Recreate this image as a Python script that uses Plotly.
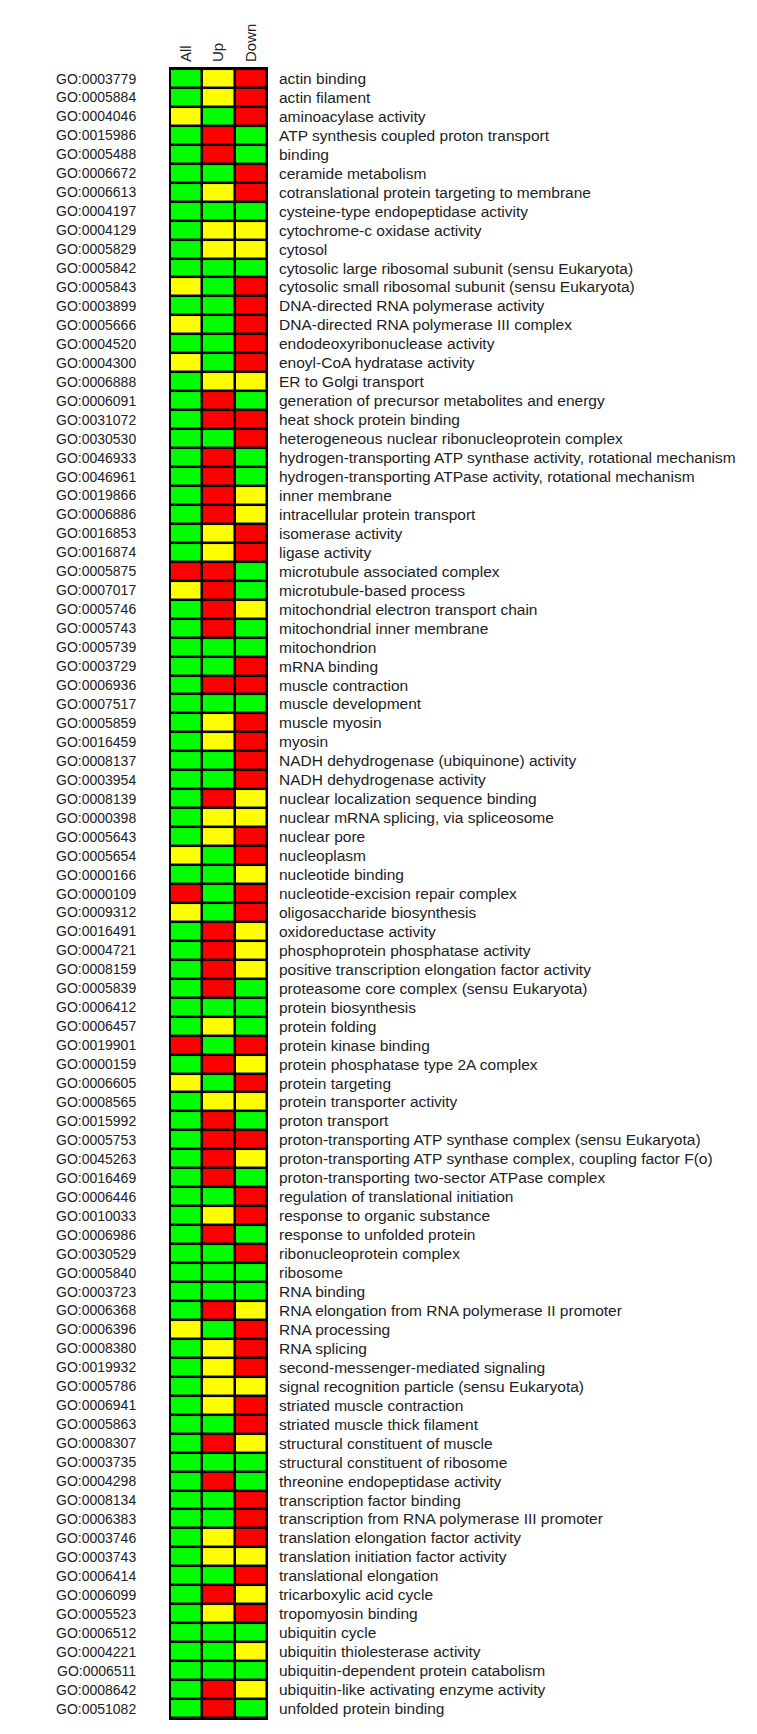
import plotly.graph_objects as go

go_ids = [
    "GO:0003779", "GO:0005884", "GO:0004046", "GO:0015986", "GO:0005488", "GO:0006672", "GO:0006613", "GO:0004197",
    "GO:0004129", "GO:0005829", "GO:0005842", "GO:0005843", "GO:0003899", "GO:0005666", "GO:0004520", "GO:0004300",
    "GO:0006888", "GO:0006091", "GO:0031072", "GO:0030530", "GO:0046933", "GO:0046961", "GO:0019866", "GO:0006886",
    "GO:0016853", "GO:0016874", "GO:0005875", "GO:0007017", "GO:0005746", "GO:0005743", "GO:0005739", "GO:0003729",
    "GO:0006936", "GO:0007517", "GO:0005859", "GO:0016459", "GO:0008137", "GO:0003954", "GO:0008139", "GO:0000398",
    "GO:0005643", "GO:0005654", "GO:0000166", "GO:0000109", "GO:0009312", "GO:0016491", "GO:0004721", "GO:0008159",
    "GO:0005839", "GO:0006412", "GO:0006457", "GO:0019901", "GO:0000159", "GO:0006605", "GO:0008565", "GO:0015992",
    "GO:0005753", "GO:0045263", "GO:0016469", "GO:0006446", "GO:0010033", "GO:0006986", "GO:0030529", "GO:0005840",
    "GO:0003723", "GO:0006368", "GO:0006396", "GO:0008380", "GO:0019932", "GO:0005786", "GO:0006941", "GO:0005863",
    "GO:0008307", "GO:0003735", "GO:0004298", "GO:0008134", "GO:0006383", "GO:0003746", "GO:0003743", "GO:0006414",
    "GO:0006099", "GO:0005523", "GO:0006512", "GO:0004221", "GO:0006511", "GO:0008642", "GO:0051082",
]

terms = [
    "actin binding", "actin filament", "aminoacylase activity", "ATP synthesis coupled proton transport", "binding",
    "ceramide metabolism", "cotranslational protein targeting to membrane", "cysteine-type endopeptidase activity",
    "cytochrome-c oxidase activity", "cytosol", "cytosolic large ribosomal subunit (sensu Eukaryota)",
    "cytosolic small ribosomal subunit (sensu Eukaryota)", "DNA-directed RNA polymerase activity",
    "DNA-directed RNA polymerase III complex", "endodeoxyribonuclease activity", "enoyl-CoA hydratase activity",
    "ER to Golgi transport", "generation of precursor metabolites and energy", "heat shock protein binding",
    "heterogeneous nuclear ribonucleoprotein complex",
    "hydrogen-transporting ATP synthase activity, rotational mechanism",
    "hydrogen-transporting ATPase activity, rotational mechanism", "inner membrane", "intracellular protein transport",
    "isomerase activity", "ligase activity", "microtubule associated complex", "microtubule-based process",
    "mitochondrial electron transport chain", "mitochondrial inner membrane", "mitochondrion", "mRNA binding",
    "muscle contraction", "muscle development", "muscle myosin", "myosin", "NADH dehydrogenase (ubiquinone) activity",
    "NADH dehydrogenase activity", "nuclear localization sequence binding", "nuclear mRNA splicing, via spliceosome",
    "nuclear pore", "nucleoplasm", "nucleotide binding", "nucleotide-excision repair complex",
    "oligosaccharide biosynthesis", "oxidoreductase activity", "phosphoprotein phosphatase activity",
    "positive transcription elongation factor activity", "proteasome core complex (sensu Eukaryota)",
    "protein biosynthesis", "protein folding", "protein kinase binding", "protein phosphatase type 2A complex",
    "protein targeting", "protein transporter activity", "proton transport",
    "proton-transporting ATP synthase complex (sensu Eukaryota)",
    "proton-transporting ATP synthase complex, coupling factor F(o)",
    "proton-transporting two-sector ATPase complex", "regulation of translational initiation",
    "response to organic substance", "response to unfolded protein", "ribonucleoprotein complex", "ribosome",
    "RNA binding", "RNA elongation from RNA polymerase II promoter", "RNA processing", "RNA splicing",
    "second-messenger-mediated signaling", "signal recognition particle (sensu Eukaryota)",
    "striated muscle contraction", "striated muscle thick filament", "structural constituent of muscle",
    "structural constituent of ribosome", "threonine endopeptidase activity", "transcription factor binding",
    "transcription from RNA polymerase III promoter", "translation elongation factor activity",
    "translation initiation factor activity", "translational elongation", "tricarboxylic acid cycle",
    "tropomyosin binding", "ubiquitin cycle", "ubiquitin thiolesterase activity",
    "ubiquitin-dependent protein catabolism", "ubiquitin-like activating enzyme activity", "unfolded protein binding",
]

columns = ["All", "Up", "Down"]

# G = green, Y = yellow, R = red
all_status = [
    "G", "G", "Y", "G", "G", "G", "G", "G", "G", "G",
    "G", "Y", "G", "Y", "G", "Y", "G", "G", "G", "G",
    "G", "G", "G", "G", "G", "G", "R", "Y", "G", "G",
    "G", "G", "G", "G", "G", "G", "G", "G", "G", "G",
    "G", "Y", "G", "R", "Y", "G", "G", "G", "G", "G",
    "G", "R", "G", "Y", "G", "G", "G", "G", "G", "G",
    "G", "G", "G", "G", "G", "G", "Y", "G", "G", "G",
    "G", "G", "G", "G", "G", "G", "G", "G", "G", "G",
    "G", "G", "G", "G", "G", "G", "G",
]
up_status = [
    "Y", "Y", "G", "R", "R", "G", "Y", "G", "Y", "Y",
    "G", "G", "G", "G", "G", "G", "Y", "R", "R", "G",
    "R", "R", "R", "R", "Y", "Y", "R", "R", "R", "R",
    "G", "G", "R", "G", "Y", "Y", "G", "G", "R", "Y",
    "Y", "G", "G", "G", "G", "R", "R", "R", "R", "G",
    "Y", "G", "R", "G", "Y", "R", "R", "R", "R", "G",
    "Y", "R", "G", "G", "G", "R", "G", "Y", "Y", "Y",
    "Y", "G", "R", "G", "R", "G", "G", "Y", "Y", "G",
    "R", "Y", "G", "G", "G", "R", "R",
]
down_status = [
    "R", "R", "R", "G", "G", "R", "R", "G", "Y", "Y",
    "G", "R", "R", "R", "R", "R", "Y", "G", "R", "R",
    "G", "G", "Y", "Y", "R", "R", "G", "G", "Y", "G",
    "G", "R", "R", "G", "R", "R", "R", "R", "Y", "Y",
    "R", "R", "Y", "R", "R", "Y", "Y", "Y", "G", "G",
    "G", "R", "Y", "R", "Y", "G", "R", "Y", "G", "R",
    "R", "G", "R", "G", "G", "Y", "R", "R", "R", "Y",
    "R", "R", "Y", "G", "G", "R", "R", "R", "Y", "R",
    "Y", "R", "G", "Y", "G", "Y", "G",
]

code = {"G": 0, "Y": 1, "R": 2}
z = [[code[a], code[u], code[d]] for a, u, d in zip(all_status, up_status, down_status)]

colorscale = [
    [0.0, "#00ff00"], [1 / 3, "#00ff00"],
    [1 / 3, "#ffff00"], [2 / 3, "#ffff00"],
    [2 / 3, "#ff0000"], [1.0, "#ff0000"],
]

W, H = 757, 1734
L, R, T, B = 170, 757 - 267, 68, 1734 - 1719
FONT = "Liberation Sans, Arial, sans-serif"
TXT = "#222222"
FS = 15.5

fig = go.Figure(
    go.Heatmap(
        z=z, x=columns, y=go_ids,
        colorscale=colorscale, zmin=0, zmax=2, showscale=False,
        xgap=2.5, ygap=2.5, hoverinfo="skip",
    )
)

for gid, term in zip(go_ids, terms):
    fig.add_annotation(
        x=0, xref="paper", y=gid, yref="y", text=gid, showarrow=False,
        xanchor="right", xshift=-32, font=dict(family=FONT, size=14, color=TXT),
    )
    fig.add_annotation(
        x=1, xref="paper", y=gid, yref="y", text=term, showarrow=False,
        xanchor="left", xshift=10, font=dict(family=FONT, size=FS, color=TXT),
    )

fig.add_shape(type="rect", xref="paper", yref="paper", x0=0, x1=1, y0=0, y1=1,
              line=dict(color="black", width=2))

fig.update_layout(
    width=W, height=H, autosize=False,
    margin=dict(l=L, r=R, t=T, b=B, pad=0, autoexpand=False),
    paper_bgcolor="white", plot_bgcolor="black",
    font=dict(family=FONT, size=15, color=TXT),
    xaxis=dict(side="top", tickangle=-90, showgrid=False, zeroline=False, ticks="", automargin=False,
               tickfont=dict(family=FONT, size=15, color=TXT), ticklabelstandoff=5),
    yaxis=dict(autorange="reversed", showgrid=False, zeroline=False, ticks="", automargin=False,
               showticklabels=False),
    showlegend=False,
)

fig.write_html("out.html", config={"displayModeBar": False},
               post_script="document.body.style.margin='0px';")
